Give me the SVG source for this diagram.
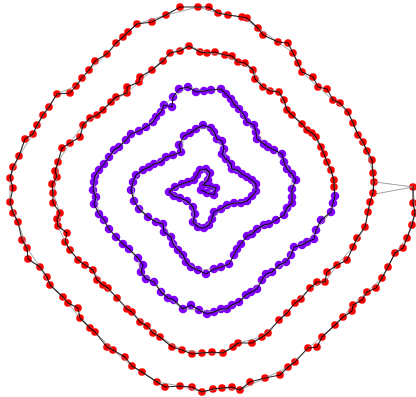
<svg xmlns="http://www.w3.org/2000/svg" width="416" height="397" viewBox="0 0 416 397">
<style>
.red circle{fill:#ff0000}
.pur circle{fill:#7f00ff}
.e{fill:none;stroke:#000;stroke-width:1.1;stroke-linejoin:round;stroke-opacity:0.85}
.g{fill:none;stroke:#8c8c8c;stroke-width:1;stroke-linejoin:round;stroke-opacity:0.8}
</style>
<rect width="416" height="397" fill="#fff"/>
<g id="nodes">
<g class="red">
<g id="a0"><circle cx="413" cy="187" r="3.8"/></g><g id="a1"><circle cx="413" cy="203" r="3.8"/></g><g id="a2"><circle cx="415" cy="213" r="3.8"/></g><g id="a3"><circle cx="412" cy="225" r="3.8"/></g><g id="a4"><circle cx="407" cy="238" r="3.8"/></g><g id="a5"><circle cx="403" cy="248" r="3.8"/></g><g id="a6"><circle cx="395" cy="253" r="3.8"/></g><g id="a7"><circle cx="388" cy="267" r="3.8"/></g><g id="a8"><circle cx="382" cy="278" r="3.8"/></g><g id="a9"><circle cx="376" cy="288" r="3.8"/></g><g id="a10"><circle cx="367" cy="292" r="3.8"/></g><g id="a11"><circle cx="362" cy="300" r="3.8"/></g><g id="a12"><circle cx="353" cy="305" r="3.8"/></g><g id="a13"><circle cx="352" cy="311" r="3.8"/></g><g id="a14"><circle cx="343" cy="317" r="3.8"/></g><g id="a15"><circle cx="335" cy="325" r="3.8"/></g><g id="a16"><circle cx="322" cy="337" r="3.8"/></g><g id="a17"><circle cx="317" cy="347" r="3.8"/></g><g id="a18"><circle cx="308" cy="348" r="3.8"/></g><g id="a19"><circle cx="295" cy="362" r="3.8"/></g><g id="a20"><circle cx="288" cy="367" r="3.8"/></g><g id="a21"><circle cx="280" cy="375" r="3.8"/></g><g id="a22"><circle cx="265" cy="378" r="3.8"/></g><g id="a23"><circle cx="250" cy="382" r="3.8"/></g><g id="a24"><circle cx="240" cy="390" r="3.8"/></g><g id="a25"><circle cx="232" cy="387" r="3.8"/></g><g id="a26"><circle cx="222" cy="388" r="3.8"/></g><g id="a27"><circle cx="213" cy="389" r="3.8"/></g><g id="a28"><circle cx="202" cy="392" r="3.8"/></g><g id="a29"><circle cx="192" cy="387" r="3.8"/></g><g id="a30"><circle cx="180" cy="386" r="3.8"/></g><g id="a31"><circle cx="165" cy="387" r="3.8"/></g><g id="a32"><circle cx="157" cy="382" r="3.8"/></g><g id="a33"><circle cx="142" cy="372" r="3.8"/></g><g id="a34"><circle cx="132" cy="366" r="3.8"/></g><g id="a35"><circle cx="125" cy="357" r="3.8"/></g><g id="a36"><circle cx="113" cy="350" r="3.8"/></g><g id="a37"><circle cx="107" cy="347" r="3.8"/></g><g id="a38"><circle cx="95" cy="332" r="3.8"/></g><g id="a39"><circle cx="90" cy="328" r="3.8"/></g><g id="a40"><circle cx="80" cy="318" r="3.8"/></g><g id="a41"><circle cx="78" cy="308" r="3.8"/></g><g id="a42"><circle cx="68" cy="303" r="3.8"/></g><g id="a43"><circle cx="63" cy="297" r="3.8"/></g><g id="a44"><circle cx="50" cy="285" r="3.8"/></g><g id="a45"><circle cx="47" cy="277" r="3.8"/></g><g id="a46"><circle cx="40" cy="267" r="3.8"/></g><g id="a47"><circle cx="28" cy="259" r="3.8"/></g><g id="a48"><circle cx="27" cy="248" r="3.8"/></g><g id="a49"><circle cx="22" cy="240" r="3.8"/></g><g id="a50"><circle cx="18" cy="222" r="3.8"/></g><g id="a51"><circle cx="13" cy="213" r="3.8"/></g><g id="a52"><circle cx="10" cy="202" r="3.8"/></g><g id="a53"><circle cx="13" cy="188" r="3.8"/></g><g id="a54"><circle cx="10" cy="178" r="3.8"/></g><g id="a55"><circle cx="13" cy="167" r="3.8"/></g><g id="a56"><circle cx="19" cy="156" r="3.8"/></g><g id="a57"><circle cx="25" cy="139" r="3.8"/></g><g id="a58"><circle cx="33" cy="134" r="3.8"/></g><g id="a59"><circle cx="37" cy="125" r="3.8"/></g><g id="a60"><circle cx="43" cy="115" r="3.8"/></g><g id="a61"><circle cx="49" cy="107" r="3.8"/></g><g id="a62"><circle cx="57" cy="94" r="3.8"/></g><g id="a63"><circle cx="70" cy="93" r="3.8"/></g><g id="a64"><circle cx="76" cy="86" r="3.8"/></g><g id="a65"><circle cx="82" cy="78" r="3.8"/></g><g id="a66"><circle cx="89" cy="70" r="3.8"/></g><g id="a67"><circle cx="95" cy="61" r="3.8"/></g><g id="a68"><circle cx="107" cy="54" r="3.8"/></g><g id="a69"><circle cx="116" cy="43" r="3.8"/></g><g id="a70"><circle cx="123" cy="37" r="3.8"/></g><g id="a71"><circle cx="128" cy="32" r="3.8"/></g><g id="a72"><circle cx="137" cy="24" r="3.8"/></g><g id="a73"><circle cx="152" cy="22" r="3.8"/></g><g id="a74"><circle cx="166" cy="15" r="3.8"/></g><g id="a75"><circle cx="180" cy="7" r="3.8"/></g><g id="a76"><circle cx="198" cy="7" r="3.8"/></g><g id="a77"><circle cx="209" cy="7" r="3.8"/></g><g id="a78"><circle cx="218" cy="13" r="3.8"/></g><g id="a79"><circle cx="228" cy="15" r="3.8"/></g><g id="a80"><circle cx="242" cy="17" r="3.8"/></g><g id="a81"><circle cx="247" cy="18" r="3.8"/></g><g id="a82"><circle cx="258" cy="28" r="3.8"/></g><g id="a83"><circle cx="263" cy="35" r="3.8"/></g><g id="a84"><circle cx="278" cy="42" r="3.8"/></g><g id="a85"><circle cx="288" cy="43" r="3.8"/></g><g id="a86"><circle cx="293" cy="53" r="3.8"/></g><g id="a87"><circle cx="298" cy="63" r="3.8"/></g><g id="a88"><circle cx="302" cy="72" r="3.8"/></g><g id="a89"><circle cx="313" cy="77" r="3.8"/></g><g id="a90"><circle cx="318" cy="87" r="3.8"/></g><g id="a91"><circle cx="327" cy="89" r="3.8"/></g><g id="a92"><circle cx="333" cy="100" r="3.8"/></g><g id="a93"><circle cx="340" cy="103" r="3.8"/></g><g id="a94"><circle cx="348" cy="112" r="3.8"/></g><g id="a95"><circle cx="353" cy="123" r="3.8"/></g><g id="a96"><circle cx="358" cy="135" r="3.8"/></g><g id="a97"><circle cx="363" cy="142" r="3.8"/></g><g id="a98"><circle cx="367" cy="151" r="3.8"/></g><g id="a99"><circle cx="372" cy="160" r="3.8"/></g><g id="a100"><circle cx="373" cy="173" r="3.8"/></g><g id="a101"><circle cx="374" cy="182" r="3.8"/></g><g id="a102"><circle cx="373" cy="193" r="3.8"/></g>
<g id="b0"><circle cx="370" cy="202" r="3.8"/></g><g id="b1"><circle cx="368" cy="212" r="3.8"/></g><g id="b2"><circle cx="365" cy="227" r="3.8"/></g><g id="b3"><circle cx="357" cy="238" r="3.8"/></g><g id="b4"><circle cx="353" cy="247" r="3.8"/></g><g id="b5"><circle cx="347" cy="260" r="3.8"/></g><g id="b6"><circle cx="337" cy="265" r="3.8"/></g><g id="b7"><circle cx="327" cy="272" r="3.8"/></g><g id="b8"><circle cx="325" cy="282" r="3.8"/></g><g id="b9"><circle cx="317" cy="282" r="3.8"/></g><g id="b10"><circle cx="310" cy="288" r="3.8"/></g><g id="b11"><circle cx="301" cy="299" r="3.8"/></g><g id="b12"><circle cx="295" cy="303" r="3.8"/></g><g id="b13"><circle cx="287" cy="313" r="3.8"/></g><g id="b14"><circle cx="279" cy="320" r="3.8"/></g><g id="b15"><circle cx="268" cy="333" r="3.8"/></g><g id="b16"><circle cx="262" cy="337" r="3.8"/></g><g id="b17"><circle cx="252" cy="343" r="3.8"/></g><g id="b18"><circle cx="238" cy="343" r="3.8"/></g><g id="b19"><circle cx="233" cy="347" r="3.8"/></g><g id="b20"><circle cx="223" cy="353" r="3.8"/></g><g id="b21"><circle cx="212" cy="352" r="3.8"/></g><g id="b22"><circle cx="202" cy="353" r="3.8"/></g><g id="b23"><circle cx="192" cy="354" r="3.8"/></g><g id="b24"><circle cx="182" cy="350" r="3.8"/></g><g id="b25"><circle cx="172" cy="347" r="3.8"/></g><g id="b26"><circle cx="160" cy="337" r="3.8"/></g><g id="b27"><circle cx="153" cy="333" r="3.8"/></g><g id="b28"><circle cx="147" cy="326" r="3.8"/></g><g id="b29"><circle cx="140" cy="322" r="3.8"/></g><g id="b30"><circle cx="132" cy="312" r="3.8"/></g><g id="b31"><circle cx="127" cy="309" r="3.8"/></g><g id="b32"><circle cx="117" cy="298" r="3.8"/></g><g id="b33"><circle cx="108" cy="288" r="3.8"/></g><g id="b34"><circle cx="103" cy="285" r="3.8"/></g><g id="b35"><circle cx="97" cy="280" r="3.8"/></g><g id="b36"><circle cx="93" cy="270" r="3.8"/></g><g id="b37"><circle cx="85" cy="265" r="3.8"/></g><g id="b38"><circle cx="78" cy="260" r="3.8"/></g><g id="b39"><circle cx="70" cy="250" r="3.8"/></g><g id="b40"><circle cx="65" cy="242" r="3.8"/></g><g id="b41"><circle cx="67" cy="233" r="3.8"/></g><g id="b42"><circle cx="58" cy="226" r="3.8"/></g><g id="b43"><circle cx="57" cy="219" r="3.8"/></g><g id="b44"><circle cx="60" cy="213" r="3.8"/></g><g id="b45"><circle cx="53" cy="203" r="3.8"/></g><g id="b46"><circle cx="53" cy="193" r="3.8"/></g><g id="b47"><circle cx="52" cy="184" r="3.8"/></g><g id="b48"><circle cx="57" cy="177" r="3.8"/></g><g id="b49"><circle cx="55" cy="171" r="3.8"/></g><g id="b50"><circle cx="58" cy="162" r="3.8"/></g><g id="b51"><circle cx="62" cy="148" r="3.8"/></g><g id="b52"><circle cx="70" cy="143" r="3.8"/></g><g id="b53"><circle cx="80" cy="137" r="3.8"/></g><g id="b54"><circle cx="83" cy="125" r="3.8"/></g><g id="b55"><circle cx="90" cy="118" r="3.8"/></g><g id="b56"><circle cx="97" cy="115" r="3.8"/></g><g id="b57"><circle cx="103" cy="110" r="3.8"/></g><g id="b58"><circle cx="111" cy="102" r="3.8"/></g><g id="b59"><circle cx="116" cy="97" r="3.8"/></g><g id="b60"><circle cx="127" cy="93" r="3.8"/></g><g id="b61"><circle cx="127" cy="87" r="3.8"/></g><g id="b62"><circle cx="139" cy="82" r="3.8"/></g><g id="b63"><circle cx="140" cy="77" r="3.8"/></g><g id="b64"><circle cx="152" cy="70" r="3.8"/></g><g id="b65"><circle cx="163" cy="61" r="3.8"/></g><g id="b66"><circle cx="170" cy="53" r="3.8"/></g><g id="b67"><circle cx="180" cy="51" r="3.8"/></g><g id="b68"><circle cx="189" cy="46" r="3.8"/></g><g id="b69"><circle cx="200" cy="52" r="3.8"/></g><g id="b70"><circle cx="207" cy="53" r="3.8"/></g><g id="b71"><circle cx="215" cy="52" r="3.8"/></g><g id="b72"><circle cx="225" cy="55" r="3.8"/></g><g id="b73"><circle cx="232" cy="56" r="3.8"/></g><g id="b74"><circle cx="238" cy="62" r="3.8"/></g><g id="b75"><circle cx="245" cy="63" r="3.8"/></g><g id="b76"><circle cx="253" cy="70" r="3.8"/></g><g id="b77"><circle cx="255" cy="79" r="3.8"/></g><g id="b78"><circle cx="263" cy="87" r="3.8"/></g><g id="b79"><circle cx="270" cy="91" r="3.8"/></g><g id="b80"><circle cx="279" cy="92" r="3.8"/></g><g id="b81"><circle cx="284" cy="100" r="3.8"/></g><g id="b82"><circle cx="287" cy="110" r="3.8"/></g><g id="b83"><circle cx="292" cy="115" r="3.8"/></g><g id="b84"><circle cx="302" cy="124" r="3.8"/></g><g id="b85"><circle cx="307" cy="130" r="3.8"/></g><g id="b86"><circle cx="312" cy="133" r="3.8"/></g><g id="b87"><circle cx="316" cy="137" r="3.8"/></g><g id="b88"><circle cx="321" cy="147" r="3.8"/></g><g id="b89"><circle cx="324" cy="154" r="3.8"/></g><g id="b90"><circle cx="327" cy="162" r="3.8"/></g><g id="b91"><circle cx="331" cy="170" r="3.8"/></g><g id="b92"><circle cx="334" cy="180" r="3.8"/></g><g id="b93"><circle cx="334" cy="187" r="3.8"/></g>
</g>
<g class="pur">
<g id="c0"><circle cx="335" cy="196" r="4.3"/></g><g id="c1"><circle cx="333" cy="203" r="4.3"/></g><g id="c2"><circle cx="331" cy="212" r="4.3"/></g><g id="c3"><circle cx="321" cy="220" r="4.3"/></g><g id="c4"><circle cx="316" cy="230" r="4.3"/></g><g id="c5"><circle cx="314" cy="239" r="4.3"/></g><g id="c6"><circle cx="307" cy="242" r="4.3"/></g><g id="c7"><circle cx="302" cy="245" r="4.3"/></g><g id="c8"><circle cx="294" cy="247" r="4.3"/></g><g id="c9"><circle cx="291" cy="255" r="4.3"/></g><g id="c10"><circle cx="286" cy="262" r="4.3"/></g><g id="c11"><circle cx="279" cy="265" r="4.3"/></g><g id="c12"><circle cx="272" cy="272" r="4.3"/></g><g id="c13"><circle cx="266" cy="274" r="4.3"/></g><g id="c14"><circle cx="262" cy="280" r="4.3"/></g><g id="c15"><circle cx="257" cy="289" r="4.3"/></g><g id="c16"><circle cx="251" cy="292" r="4.3"/></g><g id="c17"><circle cx="246" cy="295" r="4.3"/></g><g id="c18"><circle cx="239" cy="302" r="4.3"/></g><g id="c19"><circle cx="232" cy="305" r="4.3"/></g><g id="c20"><circle cx="227" cy="309" r="4.3"/></g><g id="c21"><circle cx="221" cy="309" r="4.3"/></g><g id="c22"><circle cx="214" cy="312" r="4.3"/></g><g id="c23"><circle cx="207" cy="314" r="4.3"/></g><g id="c24"><circle cx="199" cy="310" r="4.3"/></g><g id="c25"><circle cx="191" cy="305" r="4.3"/></g><g id="c26"><circle cx="183" cy="309" r="4.3"/></g><g id="c27"><circle cx="174" cy="300" r="4.3"/></g><g id="c28"><circle cx="168" cy="298" r="4.3"/></g><g id="c29"><circle cx="161" cy="292" r="4.3"/></g><g id="c30"><circle cx="154" cy="282" r="4.3"/></g><g id="c31"><circle cx="146" cy="279" r="4.3"/></g><g id="c32"><circle cx="141" cy="272" r="4.3"/></g><g id="c33"><circle cx="143" cy="265" r="4.3"/></g><g id="c34"><circle cx="138" cy="258" r="4.3"/></g><g id="c35"><circle cx="129" cy="249" r="4.3"/></g><g id="c36"><circle cx="123" cy="244" r="4.3"/></g><g id="c37"><circle cx="116" cy="237" r="4.3"/></g><g id="c38"><circle cx="109" cy="229" r="4.3"/></g><g id="c39"><circle cx="104" cy="220" r="4.3"/></g><g id="c40"><circle cx="99" cy="214" r="4.3"/></g><g id="c41"><circle cx="94" cy="204" r="4.3"/></g><g id="c42"><circle cx="96" cy="197" r="4.3"/></g><g id="c43"><circle cx="93" cy="190" r="4.3"/></g><g id="c44"><circle cx="94" cy="182" r="4.3"/></g><g id="c45"><circle cx="95" cy="176" r="4.3"/></g><g id="c46"><circle cx="99" cy="170" r="4.3"/></g><g id="c47"><circle cx="104" cy="164" r="4.3"/></g><g id="c48"><circle cx="109" cy="157" r="4.3"/></g><g id="c49"><circle cx="114" cy="150" r="4.3"/></g><g id="c50"><circle cx="119" cy="147" r="4.3"/></g><g id="c51"><circle cx="126" cy="140" r="4.3"/></g><g id="c52"><circle cx="131" cy="134" r="4.3"/></g><g id="c53"><circle cx="139" cy="131" r="4.3"/></g><g id="c54"><circle cx="146" cy="127" r="4.3"/></g><g id="c55"><circle cx="153" cy="122" r="4.3"/></g><g id="c56"><circle cx="156" cy="117" r="4.3"/></g><g id="c57"><circle cx="161" cy="112" r="4.3"/></g><g id="c58"><circle cx="164" cy="105" r="4.3"/></g><g id="c59"><circle cx="172" cy="107" r="4.3"/></g><g id="c60"><circle cx="173" cy="97" r="4.3"/></g><g id="c61"><circle cx="179" cy="89" r="4.3"/></g><g id="c62"><circle cx="188" cy="87" r="4.3"/></g><g id="c63"><circle cx="196" cy="92" r="4.3"/></g><g id="c64"><circle cx="204" cy="91" r="4.3"/></g><g id="c65"><circle cx="211" cy="90" r="4.3"/></g><g id="c66"><circle cx="221" cy="89" r="4.3"/></g><g id="c67"><circle cx="226" cy="94" r="4.3"/></g><g id="c68"><circle cx="231" cy="99" r="4.3"/></g><g id="c69"><circle cx="234" cy="104" r="4.3"/></g><g id="c70"><circle cx="239" cy="109" r="4.3"/></g><g id="c71"><circle cx="244" cy="115" r="4.3"/></g><g id="c72"><circle cx="247" cy="122" r="4.3"/></g><g id="c73"><circle cx="254" cy="125" r="4.3"/></g><g id="c74"><circle cx="256" cy="132" r="4.3"/></g><g id="c75"><circle cx="257" cy="139" r="4.3"/></g><g id="c76"><circle cx="264" cy="144" r="4.3"/></g><g id="c77"><circle cx="268" cy="147" r="4.3"/></g><g id="c78"><circle cx="274" cy="150" r="4.3"/></g><g id="c79"><circle cx="282" cy="154" r="4.3"/></g><g id="c80"><circle cx="284" cy="162" r="4.3"/></g><g id="c81"><circle cx="287" cy="169" r="4.3"/></g><g id="c82"><circle cx="292" cy="174" r="4.3"/></g><g id="c83"><circle cx="296" cy="180" r="4.3"/></g><g id="c84"><circle cx="292" cy="189" r="4.3"/></g><g id="c85"><circle cx="292" cy="197" r="4.3"/></g>
<g id="d0"><circle cx="292" cy="203" r="4.3"/></g><g id="d1"><circle cx="287" cy="208" r="4.3"/></g><g id="d2"><circle cx="284" cy="215" r="4.3"/></g><g id="d3"><circle cx="276" cy="220" r="4.3"/></g><g id="d4"><circle cx="269" cy="224" r="4.3"/></g><g id="d5"><circle cx="264" cy="225" r="4.3"/></g><g id="d6"><circle cx="257" cy="229" r="4.3"/></g><g id="d7"><circle cx="252" cy="234" r="4.3"/></g><g id="d8"><circle cx="247" cy="236" r="4.3"/></g><g id="d9"><circle cx="241" cy="244" r="4.3"/></g><g id="d10"><circle cx="237" cy="249" r="4.3"/></g><g id="d11"><circle cx="234" cy="255" r="4.3"/></g><g id="d12"><circle cx="229" cy="264" r="4.3"/></g><g id="d13"><circle cx="221" cy="267" r="4.3"/></g><g id="d14"><circle cx="214" cy="269" r="4.3"/></g><g id="d15"><circle cx="206" cy="274" r="4.3"/></g><g id="d16"><circle cx="198" cy="270" r="4.3"/></g><g id="d17"><circle cx="191" cy="267" r="4.3"/></g><g id="d18"><circle cx="186" cy="262" r="4.3"/></g><g id="d19"><circle cx="183" cy="255" r="4.3"/></g><g id="d20"><circle cx="178" cy="250" r="4.3"/></g><g id="d21"><circle cx="173" cy="244" r="4.3"/></g><g id="d22"><circle cx="171" cy="237" r="4.3"/></g><g id="d23"><circle cx="164" cy="232" r="4.3"/></g><g id="d24"><circle cx="163" cy="224" r="4.3"/></g><g id="d25"><circle cx="156" cy="222" r="4.3"/></g><g id="d26"><circle cx="148" cy="217" r="4.3"/></g><g id="d27"><circle cx="139" cy="209" r="4.3"/></g><g id="d28"><circle cx="134" cy="201" r="4.3"/></g><g id="d29"><circle cx="131" cy="190" r="4.3"/></g><g id="d30"><circle cx="133" cy="182" r="4.3"/></g><g id="d31"><circle cx="136" cy="175" r="4.3"/></g><g id="d32"><circle cx="143" cy="170" r="4.3"/></g><g id="d33"><circle cx="149" cy="167" r="4.3"/></g><g id="d34"><circle cx="154" cy="164" r="4.3"/></g><g id="d35"><circle cx="161" cy="162" r="4.3"/></g><g id="d36"><circle cx="166" cy="157" r="4.3"/></g><g id="d37"><circle cx="173" cy="155" r="4.3"/></g><g id="d38"><circle cx="181" cy="152" r="4.3"/></g><g id="d39"><circle cx="179" cy="145" r="4.3"/></g><g id="d40"><circle cx="184" cy="136" r="4.3"/></g><g id="d41"><circle cx="190" cy="133" r="4.3"/></g><g id="d42"><circle cx="196" cy="129" r="4.3"/></g><g id="d43"><circle cx="203" cy="125" r="4.3"/></g><g id="d44"><circle cx="211" cy="128" r="4.3"/></g><g id="d45"><circle cx="214" cy="132" r="4.3"/></g><g id="d46"><circle cx="217" cy="139" r="4.3"/></g><g id="d47"><circle cx="222" cy="141" r="4.3"/></g><g id="d48"><circle cx="224" cy="149" r="4.3"/></g><g id="d49"><circle cx="222" cy="154" r="4.3"/></g><g id="d50"><circle cx="226" cy="159" r="4.3"/></g><g id="d51"><circle cx="231" cy="164" r="4.3"/></g><g id="d52"><circle cx="232" cy="169" r="4.3"/></g><g id="d53"><circle cx="237" cy="170" r="4.3"/></g><g id="d54"><circle cx="242" cy="174" r="4.3"/></g><g id="d55"><circle cx="247" cy="177" r="4.3"/></g><g id="d56"><circle cx="252" cy="180" r="4.3"/></g><g id="d57"><circle cx="256" cy="184" r="4.3"/></g><g id="d58"><circle cx="256" cy="191" r="4.3"/></g><g id="d59"><circle cx="252" cy="196" r="4.3"/></g><g id="d60"><circle cx="247" cy="201" r="4.3"/></g><g id="d61"><circle cx="241" cy="203" r="4.3"/></g><g id="d62"><circle cx="234" cy="203" r="4.3"/></g><g id="d63"><circle cx="227" cy="205" r="4.3"/></g><g id="d64"><circle cx="221" cy="209" r="4.3"/></g><g id="d65"><circle cx="214" cy="212" r="4.3"/></g>
<g id="e0"><circle cx="212" cy="219" r="4.3"/></g><g id="e1"><circle cx="209" cy="225" r="4.3"/></g><g id="e2"><circle cx="204" cy="228" r="4.3"/></g><g id="e3"><circle cx="198" cy="227" r="4.3"/></g><g id="e4"><circle cx="193" cy="222" r="4.3"/></g><g id="e5"><circle cx="195" cy="214" r="4.3"/></g><g id="e6"><circle cx="193" cy="207" r="4.3"/></g><g id="e7"><circle cx="187" cy="201" r="4.3"/></g><g id="e8"><circle cx="180" cy="198" r="4.3"/></g><g id="e9"><circle cx="174" cy="196" r="4.3"/></g><g id="e10"><circle cx="169" cy="192" r="4.3"/></g><g id="e11"><circle cx="175" cy="187" r="4.3"/></g><g id="e12"><circle cx="182" cy="184" r="4.3"/></g><g id="e13"><circle cx="188" cy="182" r="4.3"/></g><g id="e14"><circle cx="194" cy="180" r="4.3"/></g><g id="e15"><circle cx="197" cy="175" r="4.3"/></g><g id="e16"><circle cx="200" cy="170" r="4.3"/></g><g id="e17"><circle cx="206" cy="169" r="4.3"/></g><g id="e18"><circle cx="210" cy="173" r="4.3"/></g><g id="e19"><circle cx="208" cy="180" r="4.3"/></g><g id="e20"><circle cx="203" cy="185" r="4.3"/></g><g id="e21"><circle cx="210" cy="186" r="4.3"/></g><g id="e22"><circle cx="216" cy="188" r="4.3"/></g><g id="e23"><circle cx="214" cy="195" r="4.3"/></g><g id="e24"><circle cx="207" cy="193" r="4.3"/></g><g id="e25"><circle cx="201" cy="190" r="4.3"/></g>
</g>
</g>
<g id="connectors">
<path class="g" d="M413,187 L375,182 M413,187 L375,194"/>
<polyline class="g" points="413,187 415,213 407,238 395,253 382,278 367,292 353,305 343,317 322,337 308,348 288,367 265,378 240,390 222,388 202,392 180,386 157,382 132,366 113,350 95,332 80,318 68,303 50,285 40,267 27,248 18,222 10,202 10,178 19,156 33,134 43,115 57,94 76,86 89,70 107,54 123,37 137,24 166,15 198,7 218,13 242,17 258,28 278,42 293,53 302,72 318,87 333,100 348,112 358,135 367,151 373,173 373,193"/>
<polyline class="g" points="370,202 365,227 353,247 337,265 325,282 310,288 295,303 279,320 262,337 238,343 223,353 202,353 182,350 160,337 147,326 132,312 117,298 103,285 93,270 78,260 65,242 58,226 60,213 53,193 57,177 58,162 70,143 83,125 97,115 111,102 127,93 139,82 152,70 170,53 189,46 207,53 225,55 238,62 253,70 263,87 279,92 287,110 302,124 312,133 321,147 327,162 334,180 335,196"/>
<polyline class="g" points="335,196 331,212 316,230 307,242 294,247 286,262 272,272 262,280 251,292 239,302 227,309 214,312 199,310 183,309 168,298 154,282 141,272 138,258 123,244 109,229 99,214 96,197 94,182 99,170 109,157 119,147 131,134 146,127 156,117 164,105 173,97 188,87 204,91 221,89 231,99 239,109 247,122 256,132 264,144 274,150 284,162 292,174 292,189 292,203"/>
<polyline class="g" points="292,203 284,215 269,224 257,229 247,236 237,249 229,264 214,269 198,270 186,262 178,250 171,237 163,224 148,217 134,201 133,182 143,170 154,164 166,157 181,152 184,136 196,129 211,128 217,139 224,149 226,159 232,169 242,174 252,180 256,191 247,201 234,203 221,209 212,219 204,228 193,222 193,207 180,198 169,192 182,184 194,180 200,170 210,173 203,185 216,188 207,193"/>
<polyline class="e" points="413,187 413,203 415,213 412,225 407,238 403,248 395,253 388,267 382,278 376,288 367,292 362,300 353,305 352,311 343,317 335,325 322,337 317,347 308,348 295,362 288,367 280,375 265,378 250,382 240,390 232,387 222,388 213,389 202,392 192,387 180,386 165,387 157,382 142,372 132,366 125,357 113,350 107,347 95,332 90,328 80,318 78,308 68,303 63,297 50,285 47,277 40,267 28,259 27,248 22,240 18,222 13,213 10,202 13,188 10,178 13,167 19,156 25,139 33,134 37,125 43,115 49,107 57,94 70,93 76,86 82,78 89,70 95,61 107,54 116,43 123,37 128,32 137,24 152,22 166,15 180,7 198,7 209,7 218,13 228,15 242,17 247,18 258,28 263,35 278,42 288,43 293,53 298,63 302,72 313,77 318,87 327,89 333,100 340,103 348,112 353,123 358,135 363,142 367,151 372,160 373,173 374,182 373,193 370,202"/>
<polyline class="e" points="370,202 368,212 365,227 357,238 353,247 347,260 337,265 327,272 325,282 317,282 310,288 301,299 295,303 287,313 279,320 268,333 262,337 252,343 238,343 233,347 223,353 212,352 202,353 192,354 182,350 172,347 160,337 153,333 147,326 140,322 132,312 127,309 117,298 108,288 103,285 97,280 93,270 85,265 78,260 70,250 65,242 67,233 58,226 57,219 60,213 53,203 53,193 52,184 57,177 55,171 58,162 62,148 70,143 80,137 83,125 90,118 97,115 103,110 111,102 116,97 127,93 127,87 139,82 140,77 152,70 163,61 170,53 180,51 189,46 200,52 207,53 215,52 225,55 232,56 238,62 245,63 253,70 255,79 263,87 270,91 279,92 284,100 287,110 292,115 302,124 307,130 312,133 316,137 321,147 324,154 327,162 331,170 334,180 334,187 335,196"/>
<polyline class="e" points="335,196 333,203 331,212 321,220 316,230 314,239 307,242 302,245 294,247 291,255 286,262 279,265 272,272 266,274 262,280 257,289 251,292 246,295 239,302 232,305 227,309 221,309 214,312 207,314 199,310 191,305 183,309 174,300 168,298 161,292 154,282 146,279 141,272 143,265 138,258 129,249 123,244 116,237 109,229 104,220 99,214 94,204 96,197 93,190 94,182 95,176 99,170 104,164 109,157 114,150 119,147 126,140 131,134 139,131 146,127 153,122 156,117 161,112 164,105 172,107 173,97 179,89 188,87 196,92 204,91 211,90 221,89 226,94 231,99 234,104 239,109 244,115 247,122 254,125 256,132 257,139 264,144 268,147 274,150 282,154 284,162 287,169 292,174 296,180 292,189 292,197 292,203"/>
<polyline class="e" points="292,203 287,208 284,215 276,220 269,224 264,225 257,229 252,234 247,236 241,244 237,249 234,255 229,264 221,267 214,269 206,274 198,270 191,267 186,262 183,255 178,250 173,244 171,237 164,232 163,224 156,222 148,217 139,209 134,201 131,190 133,182 136,175 143,170 149,167 154,164 161,162 166,157 173,155 181,152 179,145 184,136 190,133 196,129 203,125 211,128 214,132 217,139 222,141 224,149 222,154 226,159 231,164 232,169 237,170 242,174 247,177 252,180 256,184 256,191 252,196 247,201 241,203 234,203 227,205 221,209 214,212 212,219 209,225 204,228 198,227 193,222 195,214 193,207 187,201 180,198 174,196 169,192 175,187 182,184 188,182 194,180 197,175 200,170 206,169 210,173 208,180 203,185 210,186 216,188 214,195 207,193 201,190"/>
</g>
</svg>
